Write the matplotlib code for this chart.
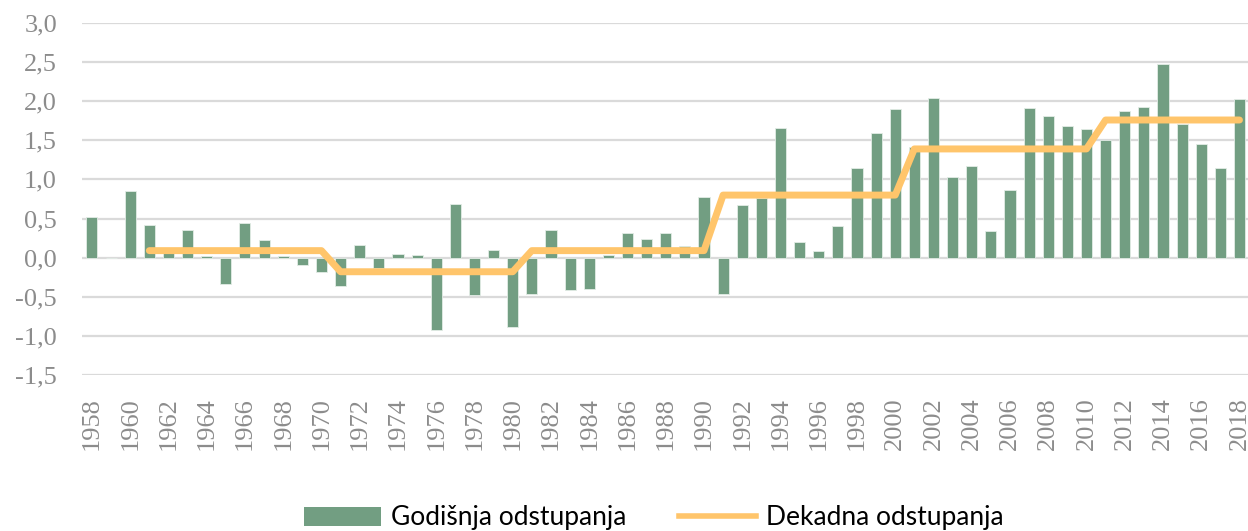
import matplotlib
matplotlib.use("Agg")
import matplotlib.pyplot as plt
from matplotlib.patches import Patch
from matplotlib.lines import Line2D
import numpy as np

years = list(range(1958, 2019))
annual = [0.52, 0.00, 0.85, 0.42, 0.08, 0.36, 0.02, -0.34, 0.44, 0.23,
          0.02, -0.09, -0.18, -0.36, 0.16, -0.13, 0.05, 0.03, -0.92, 0.69,
          -0.48, 0.10, -0.89, -0.47, 0.35, -0.41, -0.40, 0.04, 0.32, 0.24,
          0.31, 0.15, 0.77, -0.47, 0.67, 0.76, 1.66, 0.20, 0.09, 0.40,
          1.15, 1.59, 1.90, 1.41, 2.04, 1.03, 1.17, 0.34, 0.87, 1.91,
          1.81, 1.68, 1.65, 1.51, 1.88, 1.93, 2.48, 1.71, 1.45, 1.14,
          2.03]
decade_starts = [1961, 1971, 1981, 1991, 2001, 2011]
decade_ends = [1970, 1980, 1990, 2000, 2010, 2018]
decade_values = [0.09, -0.18, 0.09, 0.80, 1.39, 1.76]
yticks = [-1.5, -1.0, -0.5, 0.0, 0.5, 1.0, 1.5, 2.0, 2.5, 3.0]
label_bars = "Godišnja odstupanja"
label_line = "Dekadna odstupanja"

line_years, line_vals = [], []
for s, e, v in zip(decade_starts, decade_ends, decade_values):
    for y in range(s, e + 1):
        line_years.append(y)
        line_vals.append(v)

GREEN = "#729E82"
ORANGE = "#FFC56B"
GRID = "#DADADA"
TICKC = "#8C8C8C"

fig = plt.figure(figsize=(12.48, 5.31), dpi=100)
ax = fig.add_axes([82/1248, 1 - 375/531, (1250 - 82)/1248, (375 - 23)/531])

x = np.arange(len(years))
ax.bar(x, annual, width=0.58, color=GREEN, edgecolor="#E3ECE6", linewidth=0.6, zorder=2)
lx = [years.index(y) for y in line_years]
ax.plot(lx, line_vals, color=ORANGE, lw=5, solid_capstyle="round", solid_joinstyle="round", zorder=3)

ax.set_xlim(-0.52, len(years) - 0.45)
ax.set_ylim(-1.5, 3.0)
ax.set_yticks(yticks)
ax.set_yticklabels([f"{v:.1f}".replace(".", ",") for v in yticks])
ax.set_xticks(x[::2])
ax.set_xticklabels([str(y) for y in years[::2]], rotation=90)
for s in ax.spines.values():
    s.set_visible(False)
ax.grid(axis="y", color=GRID, lw=1.6, zorder=0)
ax.set_axisbelow(True)
ax.tick_params(axis="both", length=0, colors=TICKC)
ax.tick_params(axis="y", pad=18)
ax.tick_params(axis="x", pad=16)
for lab in ax.get_yticklabels() + ax.get_xticklabels():
    lab.set_fontfamily("Liberation Serif")
    lab.set_fontsize(19)
    lab.set_color(TICKC)

handles = [Patch(facecolor=GREEN, edgecolor="none", label=label_bars),
           Line2D([0], [0], color=ORANGE, lw=4, label=label_line)]
fig.legend(handles=handles, loc="center", bbox_to_anchor=(654/1248, 1 - 518/531),
           ncol=2, frameon=False, prop={"family": "Lato", "size": 19},
           handlelength=2.9, handleheight=0.7, handletextpad=0.4, columnspacing=2.0)

fig.savefig("out.png", dpi=100)
